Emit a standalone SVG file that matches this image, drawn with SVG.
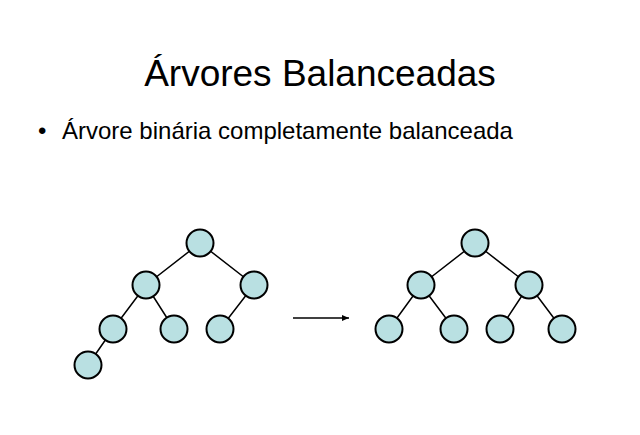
<svg xmlns="http://www.w3.org/2000/svg" width="640" height="435" viewBox="0 0 640 435">
<defs>
<style>
text{font-family:"Liberation Sans",Arial,sans-serif;fill:#000}
.n{fill:#b9e0e2;stroke:#000;stroke-width:2}
.e{stroke:#000;stroke-width:1.5;fill:none}
</style>
<marker id="ah" markerWidth="8" markerHeight="8" refX="7" refY="4" orient="auto" markerUnits="userSpaceOnUse"><path d="M0,1 L7,4 L0,7 z" fill="#000"/></marker>
</defs>
<rect width="640" height="435" fill="#fff"/>
<text x="320" y="86" font-size="37" text-anchor="middle">Árvores Balanceadas</text>
<text x="38" y="139" font-size="24">•</text>
<text x="62" y="139" font-size="24">Árvore binária completamente balanceada</text>
<g id="connectors">
<path class="e" d="M200,243L146,285M200,243L254,285M146,285L113,329M146,285L174,329M254,285L220,329M113,329L88,365"/>
<path class="e" d="M475,243L421,285M475,243L529,285M421,285L389,329M421,285L454,329M529,285L500,329M529,285L562,329"/>
<line class="e" x1="293" y1="318" x2="349" y2="318" marker-end="url(#ah)"/>
</g>
<g id="L1"><circle class="n" cx="200" cy="243" r="13.5"/></g>
<g id="L2"><circle class="n" cx="146" cy="285" r="13.5"/></g>
<g id="L3"><circle class="n" cx="254" cy="285" r="13.5"/></g>
<g id="L4"><circle class="n" cx="113" cy="329" r="13.5"/></g>
<g id="L5"><circle class="n" cx="174" cy="329" r="13.5"/></g>
<g id="L6"><circle class="n" cx="220" cy="329" r="13.5"/></g>
<g id="L7"><circle class="n" cx="88" cy="365" r="13.5"/></g>
<g id="R1"><circle class="n" cx="475" cy="243" r="13.5"/></g>
<g id="R2"><circle class="n" cx="421" cy="285" r="13.5"/></g>
<g id="R3"><circle class="n" cx="529" cy="285" r="13.5"/></g>
<g id="R4"><circle class="n" cx="389" cy="329" r="13.5"/></g>
<g id="R5"><circle class="n" cx="454" cy="329" r="13.5"/></g>
<g id="R6"><circle class="n" cx="500" cy="329" r="13.5"/></g>
<g id="R7"><circle class="n" cx="562" cy="329" r="13.5"/></g>
</svg>
